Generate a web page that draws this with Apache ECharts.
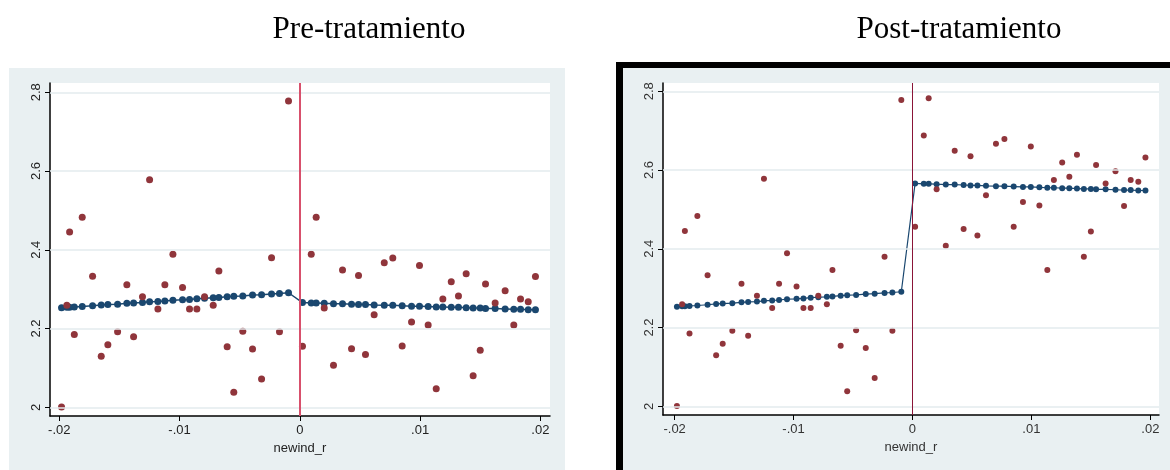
<!DOCTYPE html>
<html>
<head>
<meta charset="utf-8">
<script src="https://cdn.jsdelivr.net/npm/echarts@6/dist/echarts.min.js"></script>
<style>
  html, body { margin: 0; background: #fff; }
  #chart { width: 1170px; height: 470px; }
</style>
</head>
<body>
<div id="chart"></div>
<script>
// panel titles
var titles = ['Pre-tratamiento', 'Post-tratamiento'];
var xName = 'newind_r';
var xTicks = [-0.02, -0.01, 0, 0.01, 0.02];
var yTicks = [2, 2.2, 2.4, 2.6, 2.8];

// bins left of the cutoff (same in both panels)
var xNeg = [-0.01981, -0.01937, -0.01914, -0.01875, -0.01809, -0.01723, -0.01651, -0.01596, -0.01515, -0.01438,
            -0.01382, -0.01308, -0.01249, -0.01180, -0.01122, -0.01055, -0.00975, -0.00917, -0.00856, -0.00792,
            -0.00720, -0.00673, -0.00604, -0.00549, -0.00474, -0.00393, -0.00318, -0.00235, -0.00169, -0.00094];
var yNeg = [2.001, 2.259, 2.445, 2.185, 2.483, 2.333, 2.130, 2.159, 2.192, 2.311,
            2.179, 2.281, 2.578, 2.250, 2.311, 2.389, 2.304, 2.250, 2.250, 2.281,
            2.259, 2.346, 2.154, 2.038, 2.193, 2.148, 2.072, 2.380, 2.192, 2.778];
var fitNeg = [2.253, 2.254, 2.254, 2.255, 2.256, 2.258, 2.260, 2.261, 2.262, 2.264,
              2.265, 2.266, 2.268, 2.269, 2.270, 2.272, 2.273, 2.274, 2.276, 2.277,
              2.278, 2.279, 2.281, 2.282, 2.283, 2.285, 2.286, 2.288, 2.289, 2.291];

// bins right of the cutoff
var xPos = [0.00022, 0.00095, 0.00136, 0.00203, 0.00280, 0.00355, 0.00430, 0.00488, 0.00546, 0.00618,
            0.00702, 0.00773, 0.00851, 0.00929, 0.00995, 0.01067, 0.01134, 0.01189, 0.01259, 0.01319,
            0.01383, 0.01441, 0.01500, 0.01544, 0.01624, 0.01707, 0.01779, 0.01835, 0.01899, 0.01959];
var yPosPre = [2.155, 2.389, 2.483, 2.252, 2.107, 2.349, 2.149, 2.335, 2.134, 2.235,
               2.367, 2.379, 2.156, 2.217, 2.360, 2.209, 2.047, 2.275, 2.319, 2.283,
               2.339, 2.080, 2.145, 2.313, 2.265, 2.296, 2.209, 2.275, 2.268, 2.332];
var fitPosPre = [2.266, 2.265, 2.265, 2.264, 2.263, 2.263, 2.262, 2.261, 2.261, 2.260,
                 2.259, 2.259, 2.258, 2.257, 2.257, 2.256, 2.255, 2.255, 2.254, 2.254,
                 2.253, 2.252, 2.252, 2.251, 2.251, 2.250, 2.249, 2.249, 2.248, 2.248];
var yPosPost = [2.456, 2.688, 2.782, 2.551, 2.408, 2.649, 2.450, 2.635, 2.434, 2.536,
                2.667, 2.679, 2.456, 2.519, 2.660, 2.510, 2.346, 2.575, 2.619, 2.583,
                2.639, 2.380, 2.444, 2.613, 2.566, 2.597, 2.509, 2.575, 2.570, 2.632];
var fitPosPost = [2.566, 2.565, 2.565, 2.564, 2.563, 2.563, 2.562, 2.561, 2.561, 2.560,
                  2.559, 2.559, 2.558, 2.557, 2.557, 2.556, 2.555, 2.555, 2.554, 2.554,
                  2.553, 2.552, 2.552, 2.551, 2.551, 2.550, 2.549, 2.549, 2.548, 2.548];

function pairs(xs, ys) {
  return xs.map(function (x, i) { return [x, ys[i]]; });
}

// stata style labels: -.02 .01 2.2
function stataFmt(v) {
  var r = Math.round(v * 1000) / 1000;
  if (r === 0) return '0';
  var s = String(Math.abs(r)).replace(/^0\./, '.');
  return (r < 0 ? '-' : '') + s;
}

var RED = '#90353b';
var NAVY = '#1a476f';
var BG = '#e9f0f2';
var GRIDC = '#e3ebee';

var panels = [
  { grid: { left: 50, top: 83, width: 500, height: 333 }, xmin: -0.02077, xmax: 0.0208,
    ymin: 1.978, ymax: 2.8236, sym: 7, lw: 1.5, vcol: '#d8506c', vw: 2,
    yPos: yPosPre, fitPos: fitPosPre, labCol: '#222', axW: 1.5 },
  { grid: { left: 663, top: 83, width: 496, height: 332 }, xmin: -0.02098, xmax: 0.02073,
    ymin: 1.978, ymax: 2.821, sym: 6, lw: 1.2, vcol: '#8a1538', vw: 1,
    yPos: yPosPost, fitPos: fitPosPost, labCol: '#333', axW: 1.5 }
];

var grids = [], xAxes = [], yAxes = [], series = [];
panels.forEach(function (p, i) {
  grids.push(Object.assign({ show: true, backgroundColor: '#fff', borderWidth: 0 }, p.grid));
  xAxes.push({
    type: 'value', gridIndex: i, min: p.xmin, max: p.xmax,
    name: xName, nameLocation: 'middle', nameGap: 24,
    nameTextStyle: { color: p.labCol, fontSize: 13, fontFamily: 'Liberation Sans' },
    axisLine: { onZero: false, lineStyle: { color: '#000', width: p.axW } },
    axisTick: { customValues: xTicks, length: 5, lineStyle: { color: '#000', width: 1 } },
    axisLabel: { customValues: xTicks, formatter: stataFmt, margin: 8, fontSize: 13,
                 color: p.labCol, fontFamily: 'Liberation Sans' },
    splitLine: { show: false }
  });
  yAxes.push({
    type: 'value', gridIndex: i, min: p.ymin, max: p.ymax,
    axisLine: { show: true, onZero: false, lineStyle: { color: '#000', width: p.axW } },
    axisTick: { customValues: yTicks, length: 5, lineStyle: { color: '#000', width: 1 } },
    axisLabel: { customValues: yTicks, formatter: stataFmt, rotate: 90, margin: 7, fontSize: 13,
                 color: p.labCol, fontFamily: 'Liberation Sans' },
    splitLine: { show: false }
  });
  // horizontal grid lines
  series.push({
    type: 'line', xAxisIndex: i, yAxisIndex: i, data: [], z: 1, silent: true,
    markLine: {
      silent: true, symbol: 'none', label: { show: false },
      lineStyle: { color: GRIDC, width: 1.5, type: 'solid' },
      data: yTicks.map(function (v) { return { yAxis: v }; })
    }
  });
  // cutoff
  series.push({
    type: 'line', xAxisIndex: i, yAxisIndex: i, data: [], z: 2, silent: true,
    markLine: {
      silent: true, symbol: 'none', label: { show: false },
      lineStyle: { color: p.vcol, width: p.vw, type: 'solid' },
      data: [{ xAxis: 0 }]
    }
  });
  // fitted values
  series.push({
    type: 'line', xAxisIndex: i, yAxisIndex: i, z: 3,
    data: pairs(xNeg.concat(xPos), fitNeg.concat(p.fitPos)),
    symbol: 'circle', symbolSize: p.sym, showAllSymbol: true,
    itemStyle: { color: NAVY, opacity: 1 }, lineStyle: { color: NAVY, width: p.lw }
  });
  // binned means
  series.push({
    type: 'scatter', xAxisIndex: i, yAxisIndex: i, z: 4,
    data: pairs(xNeg.concat(xPos), yNeg.concat(p.yPos)),
    symbol: 'circle', symbolSize: p.sym, itemStyle: { color: RED, opacity: 1 }
  });
});

var chart = echarts.init(document.getElementById('chart'));
chart.setOption({
  animation: false,
  backgroundColor: '#fff',
  grid: grids,
  xAxis: xAxes,
  yAxis: yAxes,
  series: series,
  graphic: [
    { type: 'rect', z: -10, shape: { x: 9, y: 68, width: 556, height: 402 }, style: { fill: BG } },
    { type: 'rect', z: -10, shape: { x: 616, y: 62, width: 554, height: 408 }, style: { fill: '#000' } },
    { type: 'rect', z: -9, shape: { x: 623, y: 68, width: 547, height: 402 }, style: { fill: BG } },
    { type: 'text', z: 10, x: 369, y: 30,
      style: { text: titles[0], textAlign: 'center', textVerticalAlign: 'middle',
               font: '31px "Liberation Serif"', fill: '#000' } },
    { type: 'text', z: 10, x: 959, y: 30,
      style: { text: titles[1], textAlign: 'center', textVerticalAlign: 'middle',
               font: '31px "Liberation Serif"', fill: '#000' } }
  ]
});
</script>
</body>
</html>
